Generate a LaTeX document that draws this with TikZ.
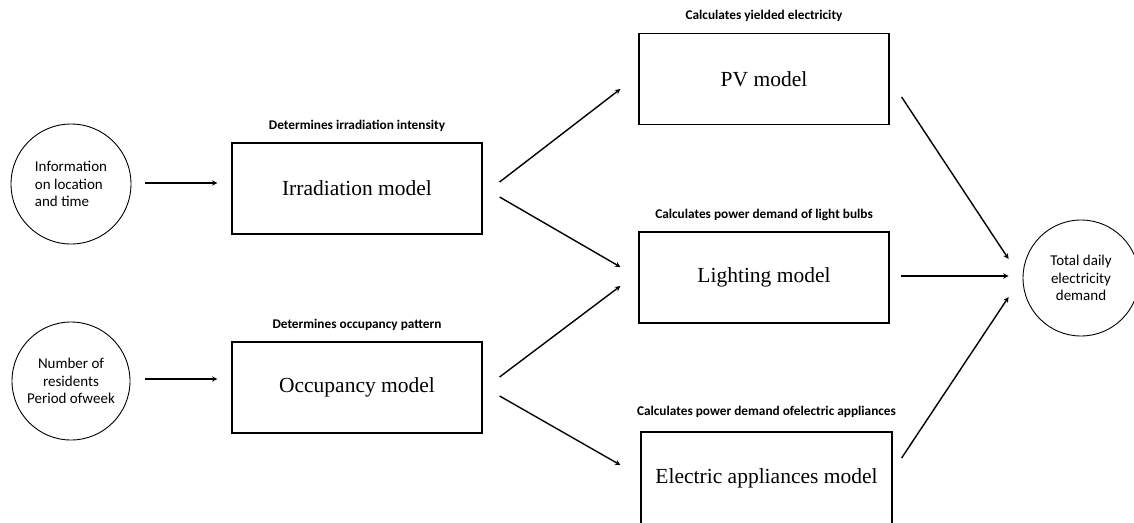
\documentclass[tikz,border=0pt]{standalone}
\usepackage{fontspec}
\setsansfont{Carlito}
\newfontfamily\boxfont{Liberation Serif}
\usepackage{tikz}
\usetikzlibrary{positioning,arrows,calc}

\begin{document}
\begin{tikzpicture}[
    x=1pt, y=-1pt,
    roundnode/.style={circle, draw=black, line width=0.9pt, inner sep=0pt, align=center, font=\sffamily\fontsize{15}{17.5}\selectfont},
    modelbox/.style={rectangle, draw=black, line width=1.2pt, minimum width=250pt, minimum height=91pt, inner sep=0pt, font=\boxfont\fontsize{21.5}{24}\selectfont},
    modellabel/.style={inner sep=0pt, font=\sffamily\bfseries\fontsize{13.3}{15}\selectfont},
    flowarrow/.style={->, >=stealth, line width=1.4pt}
    ]
        \useasboundingbox (0,0) rectangle (1134,522);
        %Nodes
        \node[roundnode, minimum size=120pt, align=left]
            (info)  at (71,184)     {Information\\on location\\and time};
        \node[roundnode, minimum size=118pt]
            (resid) at (71,381)     {Number of\\residents\\Period ofweek};
        \node[modelbox]
            (irr)   at (357,188.5)  {Irradiation model};
        \node[modelbox]
            (occ)   at (357,387.5)  {Occupancy model};
        \node[modelbox]
            (pv)    at (764,79)     {PV model};
        \node[modelbox]
            (light) at (764,277.5)  {Lighting model};
        \node[modelbox, minimum width=251pt, minimum height=93pt]
            (elec)  at (766.5,478.5) {Electric appliances model};
        \node[roundnode, minimum size=116pt]
            (total) at (1081,278)   {Total daily\\electricity\\demand};

        %Labels
        \node[modellabel] (irrlabel)   [above=11pt of irr]   {Determines irradiation intensity};
        \node[modellabel] (occlabel)   [above=11pt of occ]   {Determines occupancy pattern};
        \node[modellabel] (pvlabel)    [above=11pt of pv]    {Calculates yielded electricity};
        \node[modellabel] (lightlabel) [above=10pt of light] {Calculates power demand of light bulbs};
        \node[modellabel] (eleclabel)  [above=14pt of elec]  {Calculates power demand ofelectric appliances};

        %Lines
        \draw[flowarrow]
            ($(info.east)+(14,-1)$) -- ($(irr.west)+(-14,-5.5)$);
        \draw[flowarrow]
            ($(resid.east)+(15,-2)$) -- ($(occ.west)+(-14,-8.5)$);
        \draw[flowarrow]
            ($(irr.east)+(17,-6.5)$) -- ($(pv.west)+(-18,10)$);
        \draw[flowarrow]
            ($(irr.east)+(17,8.5)$) -- ($(light.west)+(-18,-10.5)$);
        \draw[flowarrow]
            ($(occ.east)+(17,-10.5)$) -- ($(light.west)+(-18,8.5)$);
        \draw[flowarrow]
            ($(occ.east)+(17,8.5)$) -- ($(elec.west)+(-20,-13.5)$);
        \draw[flowarrow]
            ($(pv.east)+(12,18)$) -- ($(total.west)+(-14,-19)$);
        \draw[flowarrow]
            ($(light.east)+(11,-1.5)$) -- ($(total.west)+(-14,-2)$);
        \draw[flowarrow]
            ($(elec.east)+(9,-20.5)$) -- ($(total.west)+(-14,19)$);
    \end{tikzpicture}
\end{document}
